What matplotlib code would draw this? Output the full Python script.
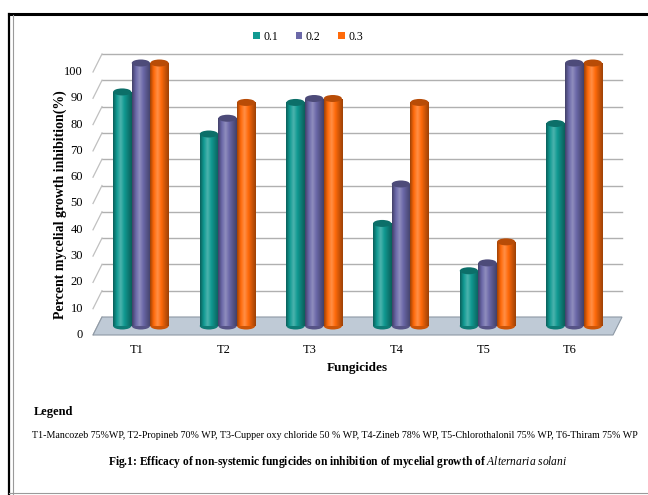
import numpy as np
import matplotlib
matplotlib.use("Agg")
import matplotlib.pyplot as plt
from matplotlib.patches import Rectangle, Ellipse, Polygon, Patch
from matplotlib.colors import LinearSegmentedColormap, to_rgb
from matplotlib.lines import Line2D

# --- data ---
treatments = ["T1", "T2", "T3", "T4", "T5", "T6"]
series_labels = ["0.1", "0.2", "0.3"]
conc_01 = [89, 73, 85, 39, 21, 77]
conc_02 = [100, 79, 86.5, 54, 24, 100]
conc_03 = [100, 85, 86.5, 85, 32, 100]
y_ticks = [0, 10, 20, 30, 40, 50, 60, 70, 80, 90, 100]

colors = ["#119a92", "#6b68a8", "#ff6a0a"]
legend_note = ("T1-Mancozeb 75%WP, T2-Propineb 70% WP, T3-Cupper oxy chloride 50 % WP, "
               "T4-Zineb 78% WP, T5-Chlorothalonil 75% WP, T6-Thiram 75% WP")

plt.rcParams["font.family"] = ["Liberation Serif", "DejaVu Serif"]
plt.rcParams["mathtext.fontset"] = "custom"
plt.rcParams["mathtext.it"] = "Liberation Serif:italic"
plt.rcParams["mathtext.rm"] = "Liberation Serif"

W, H = 648, 495
fig = plt.figure(figsize=(W / 100, H / 100), dpi=100)
fig.patch.set_facecolor("white")

# axes mapping: 86.67 px per category, 2.63 px per percent, 0 at y=326 px
px_x, px_y = 86.67, 2.63
x0_lim, x1_lim = -0.1, 6.1
y0_lim, y1_lim = -4, 108
left_px = 97.5 + x0_lim * px_x
bottom_px = 326 - y0_lim * px_y
ax = fig.add_axes([left_px / W, 1 - bottom_px / H,
                   (x1_lim - x0_lim) * px_x / W, (y1_lim - y0_lim) * px_y / H])
ax.axis("off")

# pseudo-3D depth offsets (half depth) in data units
dx, dy = 4.5 / px_x, 9 / px_y
n = len(treatments)

# floor
floor = Polygon([(-dx, -dy), (n - dx, -dy), (n + dx, dy), (dx, dy)],
                closed=True, facecolor="#bfcad6", edgecolor="#8d98a4", lw=0.8, zorder=1)
ax.add_patch(floor)

# back wall gridlines and left wall slants
for v in y_ticks[1:]:
    ax.plot([dx, n + dx], [v + dy, v + dy], color="#b0b0b0", lw=1.0, zorder=0.5)
for v in y_ticks:
    ax.plot([-dx, dx], [v - dy, v + dy], color="#c0c0c0", lw=0.9, zorder=0.5)

# cylinders
bw = 0.21
offsets = [-0.215, 0.0, 0.215]
cap_h = 7 / px_y


def shade_cmap(c):
    r = np.array(to_rgb(c))
    dark = r * 0.62
    light = np.clip(r + (1 - r) * 0.25, 0, 1)
    return LinearSegmentedColormap.from_list(
        "cyl", [dark, r, light, r, r * 0.8, dark], N=64)


for k, (vals, c) in enumerate(zip([conc_01, conc_02, conc_03], colors)):
    cmap = shade_cmap(c)
    grad = np.linspace(0, 1, 64).reshape(1, -1)
    cap_c = np.array(to_rgb(c)) * 0.72
    for i, v in enumerate(vals):
        xc = i + 0.5 + offsets[k]
        xl = xc - bw / 2
        body = Rectangle((xl, 0), bw, v, facecolor="none", edgecolor="none", zorder=3)
        ax.add_patch(body)
        im = ax.imshow(grad, extent=[xl, xl + bw, 0, v], cmap=cmap, aspect="auto",
                       zorder=3, interpolation="bilinear")
        im.set_clip_path(body)
        bottom = Ellipse((xc, 0), bw, cap_h, facecolor=np.array(to_rgb(c)) * 0.8,
                         edgecolor="none", zorder=2.9)
        ax.add_patch(bottom)
        top = Ellipse((xc, v), bw, cap_h, facecolor=cap_c, edgecolor="none", zorder=4)
        ax.add_patch(top)

ax.set_xlim(x0_lim, x1_lim)
ax.set_ylim(y0_lim, y1_lim)

# tick labels
for v in y_ticks:
    ax.text(-dx - 10 / px_x, v - dy, str(v), ha="right", va="center", fontsize=9)
for i, t in enumerate(treatments):
    ax.text(i + 0.5 - 4 / px_x, -24 / px_y, t, ha="center", va="center", fontsize=9)
ax.text(n / 2, -42 / px_y, "Fungicides", ha="center", va="center",
        fontsize=9.5, fontweight="bold")

fig.text(60 / W, 1 - 205 / H, "Percent mycelial growth inhibition(%)", rotation=90,
         ha="center", va="center", fontsize=10, fontweight="bold")

handles = [Patch(facecolor=c, edgecolor="none") for c in colors]
fig.legend(handles, series_labels, loc="center", bbox_to_anchor=(308 / W, 1 - 37 / H),
           ncol=3, frameon=False, fontsize=8.5, handlelength=0.55, handleheight=0.55,
           handletextpad=0.3, columnspacing=1.5)

# notes under the chart
fig.text(34 / W, 1 - 412 / H, "Legend", ha="left", va="center",
         fontsize=9, fontweight="bold")
fig.text(32 / W, 1 - 435 / H, legend_note, ha="left", va="center", fontsize=7.2)
fig.text(338 / W, 1 - 462 / H,
         r"Fig.1: Efficacy of non-systemic fungicides on inhibition of mycelial growth of "
         r"$\mathit{Alternaria\ solani}$",
         ha="center", va="center", fontsize=8.3, fontweight="bold")

# outer frame
fig.add_artist(Line2D([9 / W, 1], [1 - 13.5 / H, 1 - 13.5 / H], color="black", lw=2.2))
fig.add_artist(Line2D([9 / W, 9 / W], [0, 1 - 13.5 / H], color="black", lw=1.6))
fig.add_artist(Line2D([13 / W, 13 / W], [0, 1 - 15 / H], color="#9a9a9a", lw=0.8))
fig.add_artist(Line2D([9 / W, 1], [1 - 493 / H, 1 - 493 / H], color="#9a9a9a", lw=0.8))

fig.savefig("out.png", dpi=100)
